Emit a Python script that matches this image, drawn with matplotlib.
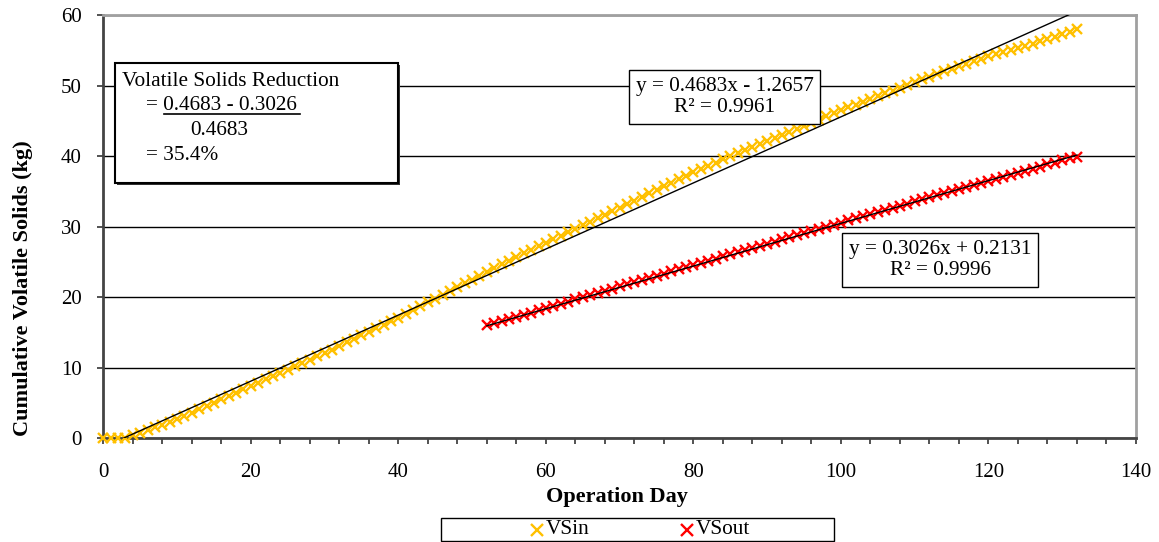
import numpy as np
import matplotlib.pyplot as plt
from matplotlib.patches import Rectangle
from matplotlib.lines import Line2D
from matplotlib.ticker import MultipleLocator

plt.rcParams['font.family'] = ['Liberation Serif', 'DejaVu Serif']

# cumulative volatile solids fed to the digester (kg), one value per day 0..132
vs_in_days = list(range(0, 133))
vs_in = [
    0.0, 0.0, 0.02, 0.1, 0.45, 0.8, 1.2, 1.6, 1.95, 2.35, 2.72,
    3.18, 3.65, 4.12, 4.59, 5.06, 5.53, 6.0, 6.47, 6.93, 7.40,
    7.87, 8.34, 8.81, 9.28, 9.75, 10.21, 10.68, 11.15, 11.62, 12.08,
    12.58, 13.08, 13.58, 14.08, 14.58, 15.08, 15.58, 16.08, 16.57, 17.07,
    17.62, 18.17, 18.72, 19.27, 19.81,
    20.35, 20.89, 21.43, 21.97, 22.5,
    23.04, 23.58, 24.12, 24.66, 25.2,
    25.7, 26.2, 26.7, 27.2, 27.7,
    28.2, 28.7, 29.2, 29.7, 30.2,
    30.7, 31.2, 31.7, 32.2, 32.7,
    33.2, 33.7, 34.2, 34.7, 35.2,
    35.7, 36.2, 36.7, 37.2, 37.7,
    38.16, 38.62, 39.08, 39.54, 40.0,
    40.44, 40.88, 41.32, 41.76, 42.2,
    42.62, 43.04, 43.46, 43.88, 44.3,
    44.74, 45.18, 45.62, 46.06, 46.5,
    46.9, 47.3, 47.7, 48.1, 48.5,
    48.89, 49.28, 49.67, 50.06, 50.45,
    50.9, 51.28, 51.66, 52.03, 52.4,
    52.75, 53.1, 53.45, 53.8, 54.15,
    54.45, 54.75, 55.05, 55.35, 55.65,
    55.95, 56.25, 56.6, 56.95, 57.3,
    57.65, 58.0,
]

# cumulative volatile solids leaving the digester (kg), days 52..132
vs_out_days = list(range(52, 133))
vs_out = [
    16.05, 16.33, 16.62, 16.92, 17.22, 17.52, 17.83, 18.14, 18.45,
    18.76, 19.07, 19.38, 19.69, 20.0, 20.31, 20.61, 20.92, 21.22, 21.53,
    21.83, 22.13, 22.44, 22.74, 23.04, 23.34, 23.65, 23.95, 24.25, 24.56,
    24.86, 25.16, 25.46, 25.77, 26.07, 26.37, 26.67, 26.97, 27.28, 27.58,
    27.88, 28.18, 28.48, 28.78, 29.08, 29.38, 29.68, 29.98, 30.28, 30.58,
    30.88, 31.18, 31.48, 31.78, 32.08, 32.38, 32.68, 32.97, 33.27, 33.57,
    33.86, 34.16, 34.45, 34.75, 35.04, 35.33, 35.63, 35.92, 36.21, 36.5,
    36.79, 37.08, 37.37, 37.66, 37.95, 38.24, 38.52, 38.81, 39.09, 39.38,
    39.66, 39.94,
]

# linear trendlines (slope, intercept, R^2)
fit_in = (0.4683, -1.2657, 0.9961)
fit_out = (0.3026, 0.2131, 0.9996)

IN_COLOR = '#FFC000'
OUT_COLOR = '#FF0000'

W, H = 1159, 542
fig = plt.figure(figsize=(W / 100, H / 100), dpi=100)
ax = fig.add_axes([103.3 / W, 1 - 438.3 / H, (1136 - 103.3) / W, (438.3 - 15) / H])


def fx(px):
    return px / W


def fy(py):
    return 1 - py / H


ax.plot(vs_in_days, vs_in, linestyle='none', marker='x', markersize=7,
        markeredgewidth=1.7, color=IN_COLOR, zorder=3, clip_on=False)
ax.plot(vs_out_days, vs_out, linestyle='none', marker='x', markersize=7,
        markeredgewidth=1.7, color=OUT_COLOR, zorder=3)

xs = np.array([vs_in_days[0], vs_in_days[-1]])
ax.plot(xs, fit_in[0] * xs + fit_in[1], color='black', lw=1.0, zorder=4)
xs = np.array([vs_out_days[0], vs_out_days[-1]])
ax.plot(xs, fit_out[0] * xs + fit_out[1], color='black', lw=1.0, zorder=4)

ax.set_xlim(0, 140)
ax.set_ylim(0, 60)
ax.xaxis.set_major_locator(MultipleLocator(20))
ax.xaxis.set_minor_locator(MultipleLocator(4))
ax.yaxis.set_major_locator(MultipleLocator(10))
ax.grid(axis='y', color='black', lw=1.0)
ax.set_axisbelow(True)

for side in ('left', 'bottom'):
    ax.spines[side].set_color('#444444')
    ax.spines[side].set_linewidth(2)
for side in ('top', 'right'):
    ax.spines[side].set_color('#a0a0a0')
    ax.spines[side].set_linewidth(2)

ax.tick_params(axis='x', which='both', direction='out', length=4,
               width=1.3, color='#444444', labelsize=15, pad=14)
ax.tick_params(axis='y', which='major', direction='out', length=4.5,
               width=1.3, color='#444444', labelsize=15, pad=11)

fig.text(fx(617), fy(497), 'Operation Day', ha='center', va='center',
         fontsize=16, fontweight='bold')
fig.text(fx(23), fy(288), 'Cumulative Volatile Solids (kg)', ha='center',
         va='center', rotation=90, fontsize=16, fontweight='bold')

# reduction calculation box
fig.patches.append(Rectangle((fx(117), fy(185)), fx(283), (183 - 63) / H,
                             transform=fig.transFigure, facecolor='#333333',
                             edgecolor='none', zorder=5))
fig.patches.append(Rectangle((fx(115), fy(183)), fx(283), (183 - 63) / H,
                             transform=fig.transFigure, facecolor='white',
                             edgecolor='black', lw=1.5, zorder=5))
fig.text(fx(122), fy(82), 'Volatile Solids Reduction', fontsize=15.3,
         va='center', ha='left', zorder=6)
fig.text(fx(146), fy(106), '= 0.4683 - 0.3026', fontsize=15.3,
         va='center', ha='left', zorder=6)
fig.add_artist(Line2D([fx(164), fx(300)], [fy(114), fy(114)], color='black',
                      lw=1.2, zorder=6))
fig.text(fx(190), fy(131), '0.4683', fontsize=15.3, va='center', ha='left', zorder=6)
fig.text(fx(146), fy(156), '= 35.4%', fontsize=15.3, va='center', ha='left', zorder=6)

# trendline equation boxes
box = dict(boxstyle='square,pad=0.3', facecolor='white', edgecolor='black', lw=1.0)
fig.text(fx(724.5), fy(97), 'y = %.4fx - %.4f\nR² = %.4f' % (fit_in[0], -fit_in[1], fit_in[2]),
         fontsize=15.3, ha='center', va='center', multialignment='center',
         linespacing=1.2, bbox=box, zorder=6)
fig.text(fx(940), fy(260), 'y = %.4fx + %.4f\nR² = %.4f' % fit_out,
         fontsize=15.3, ha='center', va='center', multialignment='center',
         linespacing=1.2, bbox=box, zorder=6)

# legend below the axis
fig.patches.append(Rectangle((fx(441), fy(541)), fx(834 - 441), (541 - 518) / H,
                             transform=fig.transFigure, facecolor='white',
                             edgecolor='black', lw=1.0))
for mx, label, color in ((537, 'VSin', IN_COLOR), (687, 'VSout', OUT_COLOR)):
    fig.add_artist(Line2D([fx(mx)], [fy(530)], linestyle='none', marker='x',
                          markersize=8, markeredgewidth=1.7, color=color))
    fig.text(fx(mx + 9), fy(530), label, fontsize=15.3, ha='left', va='center')

fig.savefig('out.png', dpi=100)
